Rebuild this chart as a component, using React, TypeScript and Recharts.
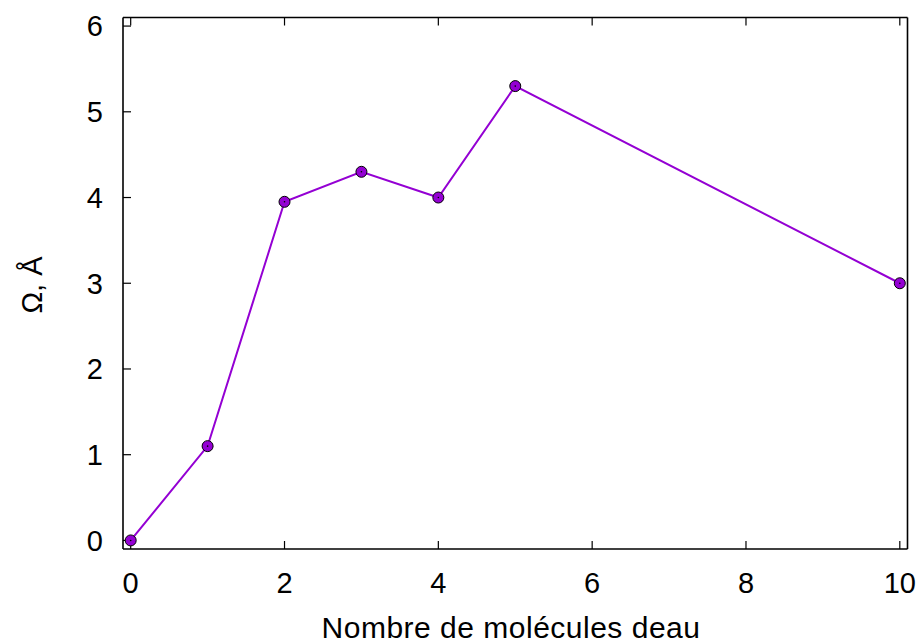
import React from 'react';
import { LineChart, Line, XAxis, YAxis, Label } from 'recharts';

// molecule counts and the Omega values
const molecules = [0, 1, 2, 3, 4, 5, 10];
const omega = [0.0, 1.1, 3.95, 4.3, 4.0, 5.3, 3.0];

const xTicks = [0, 2, 4, 6, 8, 10];
const yTicks = [0, 1, 2, 3, 4, 5, 6];

const data = molecules.map((m, i) => ({ m, omega: omega[i] }));

const FONT = '"Liberation Sans", Arial, sans-serif';
const PURPLE = '#9400d3';

const tickStyle = { fontSize: 29, fill: '#000', fontFamily: FONT };
const noLabel = () => <g />;

const Dot = (props: any) => {
  const { cx, cy } = props;
  if (cx == null || cy == null) return <g />;
  return (
    <g>
      <circle cx={cx} cy={cy} r={5.5} fill={PURPLE} stroke="#000" strokeWidth={1} />
      <circle cx={cx} cy={cy} r={0.8} fill="#000" />
    </g>
  );
};

export default function App() {
  return (
    <div style={{ position: 'absolute', left: 0, top: 0, width: 923, height: 641, background: '#fff' }}>
      <LineChart
        width={923}
        height={641}
        data={data}
        margin={{ top: 16.5, right: 14.5, bottom: 91, left: 122 }}
      >
        <XAxis
          xAxisId="b"
          dataKey="m"
          type="number"
          domain={[-0.1, 10.1]}
          ticks={xTicks}
          height={1}
          tickSize={-8}
          tickMargin={31}
          tick={tickStyle}
          stroke="#000"
          axisLine={{ stroke: '#000', strokeWidth: 1.6 }}
          tickLine={{ stroke: '#000', strokeWidth: 1.2 }}
        >
          <Label
            content={() => (
              <text
                x={511}
                y={637.5}
                textAnchor="middle"
                fontSize={30}
                letterSpacing={0.5}
                fontFamily={FONT}
                fill="#000"
              >
                Nombre de molécules deau
              </text>
            )}
          />
        </XAxis>
        <XAxis
          xAxisId="t"
          orientation="top"
          dataKey="m"
          type="number"
          domain={[-0.1, 10.1]}
          ticks={xTicks}
          height={1}
          tickSize={-8}
          tick={noLabel}
          axisLine={{ stroke: '#000', strokeWidth: 1.6 }}
          tickLine={{ stroke: '#000', strokeWidth: 1.2 }}
        />
        <YAxis
          yAxisId="l"
          type="number"
          domain={[-0.1, 6.1]}
          ticks={yTicks}
          width={1}
          tickSize={-8}
          tickMargin={28}
          tick={tickStyle}
          axisLine={{ stroke: '#000', strokeWidth: 1.6 }}
          tickLine={{ stroke: '#000', strokeWidth: 1.2 }}
        >
          <Label
            content={() => (
              <text
                x={42}
                y={285}
                transform="rotate(-90 42 285)"
                textAnchor="middle"
                fontSize={29}
                fontFamily={FONT}
                fill="#000"
              >
                Ω, Å
              </text>
            )}
          />
        </YAxis>
        <YAxis
          yAxisId="r"
          orientation="right"
          type="number"
          domain={[-0.1, 6.1]}
          ticks={yTicks}
          width={1}
          tickSize={-8}
          tick={noLabel}
          axisLine={{ stroke: '#000', strokeWidth: 1.6 }}
          tickLine={{ stroke: '#000', strokeWidth: 1.2 }}
        />
        <Line
          xAxisId="b"
          yAxisId="l"
          dataKey="omega"
          stroke={PURPLE}
          strokeWidth={2}
          dot={<Dot />}
          activeDot={false}
          isAnimationActive={false}
        />
      </LineChart>
    </div>
  );
}
